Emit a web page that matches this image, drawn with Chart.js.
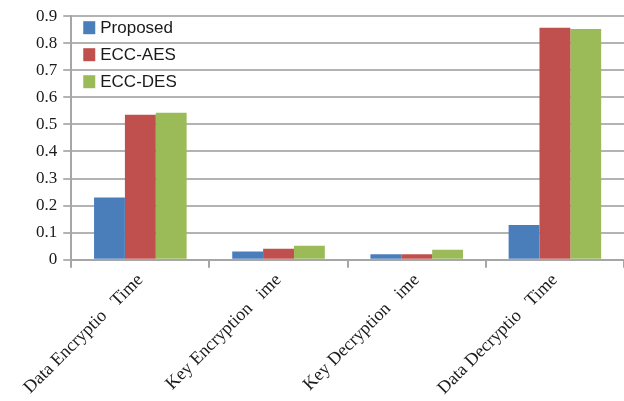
<!DOCTYPE html>
<html>
<head>
<meta charset="utf-8">
<script src="https://cdn.jsdelivr.net/npm/chart.js@4"></script>
<style>
  body { margin: 0; background: #fff; }
  #wrap { width: 624px; height: 401px; }
</style>
</head>
<body>
<div id="wrap"><canvas id="myChart"></canvas></div>
<script>
var categories = ['Data Encryptio   Time', 'Key Encryption   ime', 'Key Decryption   ime', 'Data Decryptio   Time'];
var seriesNames = ['Proposed', 'ECC-AES', 'ECC-DES'];
var proposed = [0.23, 0.03, 0.02, 0.128];
var eccAes = [0.536, 0.04, 0.02, 0.857];
var eccDes = [0.543, 0.051, 0.037, 0.853];
var yTicks = [0, 0.1, 0.2, 0.3, 0.4, 0.5, 0.6, 0.7, 0.8, 0.9];

var colors = ['#4a7ebb', '#c0504d', '#9bbb59'];

// legend drawn inside the plot, top left
var innerLegend = {
    id: 'innerLegend',
    afterDraw: function (chart) {
        var c = chart.ctx;
        var left = chart.chartArea.left + 12;
        var top = chart.chartArea.top + 5;
        c.save();
        c.font = '17px "Liberation Sans", Arial, sans-serif';
        c.textBaseline = 'middle';
        chart.data.datasets.forEach(function (ds, i) {
            var y = top + i * 27;
            c.fillStyle = ds.backgroundColor;
            c.fillRect(left, y, 12, 13);
            c.fillStyle = '#1a1a1a';
            c.fillText(ds.label, left + 17, y + 7);
        });
        c.restore();
    }
};

var ctx = document.getElementById('myChart');

new Chart(ctx, {
    type: 'bar',
    data: {
        labels: categories,
        datasets: [
            { label: seriesNames[0], data: proposed, backgroundColor: colors[0] },
            { label: seriesNames[1], data: eccAes, backgroundColor: colors[1] },
            { label: seriesNames[2], data: eccDes, backgroundColor: colors[2] }
        ]
    },
    options: {
        responsive: true,
        maintainAspectRatio: false,
        animation: false,
        layout: { padding: { top: 8, right: 0, left: 30, bottom: 0 } },
        datasets: {
            bar: { categoryPercentage: 0.67, barPercentage: 1.0 }
        },
        plugins: {
            legend: { display: false },
            tooltip: { enabled: false }
        },
        scales: {
            x: {
                grid: {
                    offset: true,
                    drawOnChartArea: false,
                    drawTicks: true,
                    tickLength: 8,
                    color: '#a6a6a6',
                    lineWidth: 2
                },
                border: { color: '#a6a6a6', width: 2 },
                ticks: {
                    minRotation: 45,
                    maxRotation: 45,
                    color: '#1a1a1a',
                    padding: 2,
                    font: { family: '"Liberation Serif", "Times New Roman", serif', size: 18 }
                }
            },
            y: {
                min: 0,
                max: 0.9,
                afterBuildTicks: function (axis) {
                    axis.ticks = yTicks.map(function (v) { return { value: v }; });
                },
                grid: {
                    color: '#b3b3b3',
                    lineWidth: 2,
                    tickLength: 8
                },
                border: { color: '#a6a6a6', width: 2 },
                ticks: {
                    color: '#1a1a1a',
                    padding: 6,
                    font: { family: '"Liberation Serif", "Times New Roman", serif', size: 17 },
                    callback: function (v) { return String(Math.round(v * 10) / 10); }
                }
            }
        }
    },
    plugins: [innerLegend]
});
</script>
</body>
</html>
